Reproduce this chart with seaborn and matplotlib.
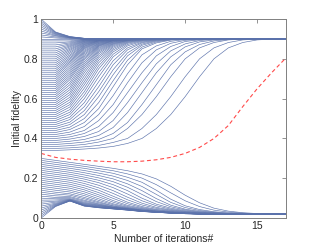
import pandas as pd
import seaborn as sns
import matplotlib
matplotlib.use("Agg")
import matplotlib.pyplot as plt

# ------------------------------ data -------------------------
iterations = list(range(18))

# curves that end up at the upper fixed point (~0.9)
upper_curves = [
    [0.34, 0.34, 0.343, 0.347, 0.352, 0.36, 0.375, 0.40, 0.45, 0.52, 0.61, 0.71, 0.80, 0.855, 0.882, 0.895, 0.899, 0.90],
    [0.35, 0.35, 0.353, 0.358, 0.365, 0.38, 0.40, 0.45, 0.52, 0.61, 0.71, 0.80, 0.855, 0.882, 0.895, 0.899, 0.90, 0.90],
    [0.36, 0.36, 0.364, 0.37, 0.382, 0.40, 0.45, 0.52, 0.61, 0.71, 0.80, 0.855, 0.882, 0.895, 0.899, 0.90, 0.90, 0.90],
    [0.37, 0.37, 0.375, 0.382, 0.395, 0.425, 0.48, 0.57, 0.67, 0.77, 0.835, 0.872, 0.89, 0.897, 0.90, 0.90, 0.90, 0.90],
    [0.38, 0.38, 0.386, 0.395, 0.415, 0.455, 0.53, 0.63, 0.73, 0.81, 0.86, 0.885, 0.895, 0.899, 0.90, 0.90, 0.90, 0.90],
    [0.39, 0.39, 0.397, 0.41, 0.435, 0.49, 0.58, 0.68, 0.775, 0.84, 0.875, 0.892, 0.898, 0.90, 0.90, 0.90, 0.90, 0.90],
    [0.40, 0.40, 0.408, 0.425, 0.46, 0.53, 0.63, 0.73, 0.815, 0.862, 0.887, 0.896, 0.90, 0.90, 0.90, 0.90, 0.90, 0.90],
    [0.41, 0.41, 0.42, 0.44, 0.49, 0.57, 0.68, 0.78, 0.845, 0.878, 0.893, 0.898, 0.90, 0.90, 0.90, 0.90, 0.90, 0.90],
    [0.42, 0.42, 0.432, 0.46, 0.52, 0.615, 0.725, 0.82, 0.865, 0.888, 0.897, 0.90, 0.90, 0.90, 0.90, 0.90, 0.90, 0.90],
    [0.43, 0.43, 0.445, 0.48, 0.55, 0.66, 0.77, 0.85, 0.88, 0.894, 0.899, 0.90, 0.90, 0.90, 0.90, 0.90, 0.90, 0.90],
    [0.44, 0.44, 0.457, 0.50, 0.58, 0.69, 0.793, 0.859, 0.885, 0.896, 0.90, 0.90, 0.90, 0.90, 0.90, 0.90, 0.90, 0.90],
    [0.45, 0.45, 0.47, 0.52, 0.61, 0.72, 0.815, 0.868, 0.889, 0.897, 0.90, 0.90, 0.90, 0.90, 0.90, 0.90, 0.90, 0.90],
    [0.46, 0.46, 0.482, 0.54, 0.635, 0.745, 0.83, 0.874, 0.892, 0.898, 0.90, 0.90, 0.90, 0.90, 0.90, 0.90, 0.90, 0.90],
    [0.47, 0.47, 0.495, 0.56, 0.66, 0.77, 0.845, 0.88, 0.894, 0.899, 0.90, 0.90, 0.90, 0.90, 0.90, 0.90, 0.90, 0.90],
    [0.48, 0.48, 0.507, 0.58, 0.685, 0.79, 0.855, 0.884, 0.896, 0.90, 0.90, 0.90, 0.90, 0.90, 0.90, 0.90, 0.90, 0.90],
    [0.49, 0.49, 0.52, 0.60, 0.71, 0.81, 0.865, 0.888, 0.897, 0.90, 0.90, 0.90, 0.90, 0.90, 0.90, 0.90, 0.90, 0.90],
    [0.50, 0.50, 0.532, 0.618, 0.73, 0.823, 0.872, 0.891, 0.898, 0.90, 0.90, 0.90, 0.90, 0.90, 0.90, 0.90, 0.90, 0.90],
    [0.51, 0.51, 0.545, 0.635, 0.75, 0.835, 0.878, 0.893, 0.899, 0.90, 0.90, 0.90, 0.90, 0.90, 0.90, 0.90, 0.90, 0.90],
    [0.52, 0.52, 0.558, 0.653, 0.765, 0.844, 0.882, 0.895, 0.90, 0.90, 0.90, 0.90, 0.90, 0.90, 0.90, 0.90, 0.90, 0.90],
    [0.53, 0.53, 0.57, 0.67, 0.78, 0.852, 0.885, 0.896, 0.90, 0.90, 0.90, 0.90, 0.90, 0.90, 0.90, 0.90, 0.90, 0.90],
    [0.54, 0.54, 0.582, 0.685, 0.793, 0.859, 0.888, 0.897, 0.90, 0.90, 0.90, 0.90, 0.90, 0.90, 0.90, 0.90, 0.90, 0.90],
    [0.55, 0.55, 0.595, 0.70, 0.805, 0.865, 0.89, 0.898, 0.90, 0.90, 0.90, 0.90, 0.90, 0.90, 0.90, 0.90, 0.90, 0.90],
    [0.56, 0.56, 0.607, 0.715, 0.815, 0.87, 0.892, 0.899, 0.90, 0.90, 0.90, 0.90, 0.90, 0.90, 0.90, 0.90, 0.90, 0.90],
    [0.57, 0.57, 0.62, 0.73, 0.825, 0.874, 0.893, 0.899, 0.90, 0.90, 0.90, 0.90, 0.90, 0.90, 0.90, 0.90, 0.90, 0.90],
    [0.58, 0.58, 0.632, 0.743, 0.833, 0.877, 0.894, 0.90, 0.90, 0.90, 0.90, 0.90, 0.90, 0.90, 0.90, 0.90, 0.90, 0.90],
    [0.59, 0.59, 0.645, 0.755, 0.84, 0.88, 0.895, 0.90, 0.90, 0.90, 0.90, 0.90, 0.90, 0.90, 0.90, 0.90, 0.90, 0.90],
    [0.60, 0.60, 0.657, 0.765, 0.846, 0.883, 0.896, 0.90, 0.90, 0.90, 0.90, 0.90, 0.90, 0.90, 0.90, 0.90, 0.90, 0.90],
    [0.61, 0.61, 0.67, 0.775, 0.852, 0.885, 0.897, 0.90, 0.90, 0.90, 0.90, 0.90, 0.90, 0.90, 0.90, 0.90, 0.90, 0.90],
    [0.62, 0.62, 0.682, 0.785, 0.857, 0.887, 0.898, 0.90, 0.90, 0.90, 0.90, 0.90, 0.90, 0.90, 0.90, 0.90, 0.90, 0.90],
    [0.63, 0.63, 0.695, 0.795, 0.862, 0.889, 0.898, 0.90, 0.90, 0.90, 0.90, 0.90, 0.90, 0.90, 0.90, 0.90, 0.90, 0.90],
    [0.64, 0.64, 0.705, 0.803, 0.865, 0.891, 0.899, 0.90, 0.90, 0.90, 0.90, 0.90, 0.90, 0.90, 0.90, 0.90, 0.90, 0.90],
    [0.65, 0.65, 0.715, 0.81, 0.868, 0.892, 0.899, 0.90, 0.90, 0.90, 0.90, 0.90, 0.90, 0.90, 0.90, 0.90, 0.90, 0.90],
    [0.66, 0.66, 0.725, 0.818, 0.871, 0.893, 0.90, 0.90, 0.90, 0.90, 0.90, 0.90, 0.90, 0.90, 0.90, 0.90, 0.90, 0.90],
    [0.67, 0.67, 0.735, 0.825, 0.874, 0.894, 0.90, 0.90, 0.90, 0.90, 0.90, 0.90, 0.90, 0.90, 0.90, 0.90, 0.90, 0.90],
    [0.68, 0.68, 0.745, 0.832, 0.877, 0.895, 0.90, 0.90, 0.90, 0.90, 0.90, 0.90, 0.90, 0.90, 0.90, 0.90, 0.90, 0.90],
    [0.69, 0.69, 0.755, 0.838, 0.879, 0.896, 0.90, 0.90, 0.90, 0.90, 0.90, 0.90, 0.90, 0.90, 0.90, 0.90, 0.90, 0.90],
    [0.70, 0.70, 0.765, 0.844, 0.882, 0.897, 0.90, 0.90, 0.90, 0.90, 0.90, 0.90, 0.90, 0.90, 0.90, 0.90, 0.90, 0.90],
    [0.71, 0.71, 0.775, 0.85, 0.884, 0.897, 0.90, 0.90, 0.90, 0.90, 0.90, 0.90, 0.90, 0.90, 0.90, 0.90, 0.90, 0.90],
    [0.72, 0.72, 0.783, 0.854, 0.886, 0.898, 0.90, 0.90, 0.90, 0.90, 0.90, 0.90, 0.90, 0.90, 0.90, 0.90, 0.90, 0.90],
    [0.73, 0.73, 0.79, 0.858, 0.888, 0.898, 0.90, 0.90, 0.90, 0.90, 0.90, 0.90, 0.90, 0.90, 0.90, 0.90, 0.90, 0.90],
    [0.74, 0.74, 0.798, 0.862, 0.89, 0.899, 0.90, 0.90, 0.90, 0.90, 0.90, 0.90, 0.90, 0.90, 0.90, 0.90, 0.90, 0.90],
    [0.75, 0.75, 0.805, 0.865, 0.891, 0.899, 0.90, 0.90, 0.90, 0.90, 0.90, 0.90, 0.90, 0.90, 0.90, 0.90, 0.90, 0.90],
    [0.76, 0.76, 0.813, 0.869, 0.892, 0.90, 0.90, 0.90, 0.90, 0.90, 0.90, 0.90, 0.90, 0.90, 0.90, 0.90, 0.90, 0.90],
    [0.77, 0.77, 0.82, 0.872, 0.893, 0.90, 0.90, 0.90, 0.90, 0.90, 0.90, 0.90, 0.90, 0.90, 0.90, 0.90, 0.90, 0.90],
    [0.78, 0.78, 0.828, 0.875, 0.894, 0.90, 0.90, 0.90, 0.90, 0.90, 0.90, 0.90, 0.90, 0.90, 0.90, 0.90, 0.90, 0.90],
    [0.79, 0.79, 0.835, 0.878, 0.895, 0.90, 0.90, 0.90, 0.90, 0.90, 0.90, 0.90, 0.90, 0.90, 0.90, 0.90, 0.90, 0.90],
    [0.80, 0.80, 0.842, 0.881, 0.896, 0.90, 0.90, 0.90, 0.90, 0.90, 0.90, 0.90, 0.90, 0.90, 0.90, 0.90, 0.90, 0.90],
    [0.81, 0.81, 0.848, 0.883, 0.897, 0.90, 0.90, 0.90, 0.90, 0.90, 0.90, 0.90, 0.90, 0.90, 0.90, 0.90, 0.90, 0.90],
    [0.82, 0.82, 0.854, 0.886, 0.898, 0.90, 0.90, 0.90, 0.90, 0.90, 0.90, 0.90, 0.90, 0.90, 0.90, 0.90, 0.90, 0.90],
    [0.83, 0.83, 0.86, 0.888, 0.898, 0.90, 0.90, 0.90, 0.90, 0.90, 0.90, 0.90, 0.90, 0.90, 0.90, 0.90, 0.90, 0.90],
    [0.84, 0.84, 0.865, 0.89, 0.899, 0.90, 0.90, 0.90, 0.90, 0.90, 0.90, 0.90, 0.90, 0.90, 0.90, 0.90, 0.90, 0.90],
    [0.85, 0.85, 0.87, 0.892, 0.899, 0.90, 0.90, 0.90, 0.90, 0.90, 0.90, 0.90, 0.90, 0.90, 0.90, 0.90, 0.90, 0.90],
    [0.86, 0.86, 0.875, 0.894, 0.90, 0.90, 0.90, 0.90, 0.90, 0.90, 0.90, 0.90, 0.90, 0.90, 0.90, 0.90, 0.90, 0.90],
    [0.87, 0.87, 0.88, 0.895, 0.90, 0.90, 0.90, 0.90, 0.90, 0.90, 0.90, 0.90, 0.90, 0.90, 0.90, 0.90, 0.90, 0.90],
    [0.88, 0.88, 0.885, 0.897, 0.90, 0.90, 0.90, 0.90, 0.90, 0.90, 0.90, 0.90, 0.90, 0.90, 0.90, 0.90, 0.90, 0.90],
    [0.89, 0.89, 0.89, 0.898, 0.90, 0.90, 0.90, 0.90, 0.90, 0.90, 0.90, 0.90, 0.90, 0.90, 0.90, 0.90, 0.90, 0.90],
    [0.90, 0.90, 0.90, 0.90, 0.90, 0.90, 0.90, 0.90, 0.90, 0.90, 0.90, 0.90, 0.90, 0.90, 0.90, 0.90, 0.90, 0.90],
    [0.91, 0.905, 0.90, 0.90, 0.90, 0.90, 0.90, 0.90, 0.90, 0.90, 0.90, 0.90, 0.90, 0.90, 0.90, 0.90, 0.90, 0.90],
    [0.92, 0.91, 0.903, 0.90, 0.90, 0.90, 0.90, 0.90, 0.90, 0.90, 0.90, 0.90, 0.90, 0.90, 0.90, 0.90, 0.90, 0.90],
    [0.93, 0.915, 0.905, 0.90, 0.90, 0.90, 0.90, 0.90, 0.90, 0.90, 0.90, 0.90, 0.90, 0.90, 0.90, 0.90, 0.90, 0.90],
    [0.94, 0.918, 0.906, 0.901, 0.90, 0.90, 0.90, 0.90, 0.90, 0.90, 0.90, 0.90, 0.90, 0.90, 0.90, 0.90, 0.90, 0.90],
    [0.95, 0.922, 0.907, 0.901, 0.90, 0.90, 0.90, 0.90, 0.90, 0.90, 0.90, 0.90, 0.90, 0.90, 0.90, 0.90, 0.90, 0.90],
    [0.96, 0.925, 0.908, 0.902, 0.90, 0.90, 0.90, 0.90, 0.90, 0.90, 0.90, 0.90, 0.90, 0.90, 0.90, 0.90, 0.90, 0.90],
    [0.97, 0.928, 0.909, 0.902, 0.90, 0.90, 0.90, 0.90, 0.90, 0.90, 0.90, 0.90, 0.90, 0.90, 0.90, 0.90, 0.90, 0.90],
    [0.98, 0.931, 0.91, 0.903, 0.90, 0.90, 0.90, 0.90, 0.90, 0.90, 0.90, 0.90, 0.90, 0.90, 0.90, 0.90, 0.90, 0.90],
    [0.99, 0.933, 0.911, 0.903, 0.90, 0.90, 0.90, 0.90, 0.90, 0.90, 0.90, 0.90, 0.90, 0.90, 0.90, 0.90, 0.90, 0.90],
    [1.00, 0.935, 0.912, 0.903, 0.90, 0.90, 0.90, 0.90, 0.90, 0.90, 0.90, 0.90, 0.90, 0.90, 0.90, 0.90, 0.90, 0.90],
]

# curves that end up at the lower fixed point (~0.02)
lower_curves = [
    [0.30, 0.29, 0.28, 0.27, 0.26, 0.25, 0.238, 0.222, 0.197, 0.16, 0.115, 0.077, 0.05, 0.035, 0.027, 0.023, 0.021, 0.02],
    [0.29, 0.28, 0.27, 0.26, 0.249, 0.238, 0.222, 0.201, 0.168, 0.127, 0.087, 0.058, 0.04, 0.03, 0.025, 0.022, 0.02, 0.02],
    [0.28, 0.27, 0.26, 0.25, 0.238, 0.225, 0.205, 0.18, 0.14, 0.095, 0.062, 0.043, 0.032, 0.026, 0.023, 0.021, 0.02, 0.02],
    [0.27, 0.26, 0.25, 0.239, 0.226, 0.211, 0.189, 0.159, 0.119, 0.079, 0.053, 0.038, 0.029, 0.024, 0.022, 0.02, 0.02, 0.02],
    [0.26, 0.25, 0.24, 0.228, 0.214, 0.197, 0.172, 0.138, 0.098, 0.065, 0.045, 0.034, 0.027, 0.023, 0.021, 0.02, 0.02, 0.02],
    [0.25, 0.24, 0.23, 0.217, 0.202, 0.183, 0.155, 0.119, 0.083, 0.057, 0.041, 0.031, 0.026, 0.022, 0.021, 0.02, 0.02, 0.02],
    [0.24, 0.23, 0.22, 0.206, 0.19, 0.168, 0.138, 0.10, 0.07, 0.05, 0.037, 0.029, 0.024, 0.022, 0.02, 0.02, 0.02, 0.02],
    [0.23, 0.22, 0.21, 0.196, 0.178, 0.153, 0.121, 0.087, 0.062, 0.045, 0.034, 0.027, 0.023, 0.021, 0.02, 0.02, 0.02, 0.02],
    [0.22, 0.21, 0.20, 0.185, 0.165, 0.138, 0.105, 0.075, 0.054, 0.041, 0.032, 0.026, 0.023, 0.021, 0.02, 0.02, 0.02, 0.02],
    [0.21, 0.20, 0.19, 0.174, 0.152, 0.124, 0.092, 0.066, 0.049, 0.038, 0.03, 0.025, 0.022, 0.02, 0.02, 0.02, 0.02, 0.02],
    [0.20, 0.19, 0.18, 0.163, 0.14, 0.11, 0.08, 0.058, 0.044, 0.035, 0.028, 0.024, 0.022, 0.02, 0.02, 0.02, 0.02, 0.02],
    [0.19, 0.18, 0.17, 0.152, 0.128, 0.099, 0.072, 0.053, 0.041, 0.033, 0.027, 0.023, 0.021, 0.02, 0.02, 0.02, 0.02, 0.02],
    [0.18, 0.17, 0.16, 0.142, 0.117, 0.088, 0.064, 0.049, 0.038, 0.031, 0.026, 0.023, 0.021, 0.02, 0.02, 0.02, 0.02, 0.02],
    [0.17, 0.16, 0.15, 0.132, 0.107, 0.08, 0.059, 0.046, 0.036, 0.03, 0.025, 0.022, 0.021, 0.02, 0.02, 0.02, 0.02, 0.02],
    [0.16, 0.15, 0.14, 0.122, 0.097, 0.072, 0.055, 0.043, 0.035, 0.029, 0.025, 0.022, 0.021, 0.02, 0.02, 0.02, 0.02, 0.02],
    [0.15, 0.14, 0.131, 0.113, 0.089, 0.067, 0.052, 0.041, 0.034, 0.028, 0.024, 0.022, 0.02, 0.02, 0.02, 0.02, 0.02, 0.02],
    [0.14, 0.13, 0.122, 0.104, 0.082, 0.062, 0.05, 0.04, 0.033, 0.028, 0.024, 0.022, 0.02, 0.02, 0.02, 0.02, 0.02, 0.02],
    [0.13, 0.121, 0.115, 0.097, 0.077, 0.06, 0.048, 0.039, 0.032, 0.027, 0.024, 0.021, 0.02, 0.02, 0.02, 0.02, 0.02, 0.02],
    [0.12, 0.112, 0.108, 0.09, 0.072, 0.057, 0.047, 0.038, 0.032, 0.027, 0.024, 0.021, 0.02, 0.02, 0.02, 0.02, 0.02, 0.02],
    [0.11, 0.104, 0.103, 0.085, 0.069, 0.055, 0.046, 0.037, 0.031, 0.027, 0.023, 0.021, 0.02, 0.02, 0.02, 0.02, 0.02, 0.02],
    [0.10, 0.097, 0.098, 0.08, 0.066, 0.054, 0.045, 0.037, 0.031, 0.027, 0.023, 0.021, 0.02, 0.02, 0.02, 0.02, 0.02, 0.02],
    [0.09, 0.091, 0.095, 0.076, 0.064, 0.053, 0.044, 0.036, 0.031, 0.026, 0.023, 0.021, 0.02, 0.02, 0.02, 0.02, 0.02, 0.02],
    [0.08, 0.085, 0.093, 0.073, 0.062, 0.052, 0.044, 0.036, 0.031, 0.026, 0.023, 0.021, 0.02, 0.02, 0.02, 0.02, 0.02, 0.02],
    [0.07, 0.08, 0.091, 0.07, 0.06, 0.051, 0.043, 0.035, 0.03, 0.026, 0.023, 0.021, 0.02, 0.02, 0.02, 0.02, 0.02, 0.02],
    [0.06, 0.075, 0.09, 0.068, 0.058, 0.05, 0.043, 0.035, 0.03, 0.026, 0.023, 0.021, 0.02, 0.02, 0.02, 0.02, 0.02, 0.02],
    [0.05, 0.071, 0.089, 0.066, 0.056, 0.049, 0.042, 0.035, 0.03, 0.026, 0.023, 0.021, 0.02, 0.02, 0.02, 0.02, 0.02, 0.02],
    [0.04, 0.068, 0.088, 0.064, 0.055, 0.048, 0.042, 0.034, 0.03, 0.026, 0.023, 0.021, 0.02, 0.02, 0.02, 0.02, 0.02, 0.02],
    [0.03, 0.065, 0.087, 0.063, 0.054, 0.047, 0.041, 0.034, 0.029, 0.025, 0.022, 0.021, 0.02, 0.02, 0.02, 0.02, 0.02, 0.02],
    [0.02, 0.062, 0.087, 0.062, 0.053, 0.047, 0.041, 0.034, 0.029, 0.025, 0.022, 0.021, 0.02, 0.02, 0.02, 0.02, 0.02, 0.02],
    [0.01, 0.06, 0.086, 0.061, 0.052, 0.046, 0.04, 0.033, 0.029, 0.025, 0.022, 0.02, 0.02, 0.02, 0.02, 0.02, 0.02, 0.02],
    [0.00, 0.058, 0.086, 0.06, 0.052, 0.046, 0.04, 0.033, 0.029, 0.025, 0.022, 0.02, 0.02, 0.02, 0.02, 0.02, 0.02, 0.02],
]

# the threshold curve (red dashed)
threshold_curve = [0.325, 0.305, 0.296, 0.29, 0.286, 0.283, 0.283, 0.286, 0.293, 0.305,
                   0.325, 0.355, 0.40, 0.465, 0.56, 0.65, 0.73, 0.805]

x_ticks = [0, 5, 10, 15]
y_ticks = [0, 0.2, 0.4, 0.6, 0.8, 1]
y_tick_labels = ["0", "0.2", "0.4", "0.6", "0.8", "1"]

# ------------------------------ build long table ------------------------------
rows = []
for curve_id, curve in enumerate(upper_curves + lower_curves):
    assert len(curve) == len(iterations), (curve_id, len(curve))
    for it, val in zip(iterations, curve):
        rows.append({"curve": curve_id, "iteration": it, "fidelity": val})
curves_df = pd.DataFrame(rows)
threshold_df = pd.DataFrame({"iteration": iterations, "fidelity": threshold_curve})

# ---------------------------------- plotting ----------------------------------
sns.set_style("white")
plt.rcParams["font.family"] = ["Liberation Sans", "DejaVu Sans"]

fig = plt.figure(figsize=(3.16, 2.47), dpi=100)
ax = fig.add_axes([0.13, 0.117, 0.775, 0.806])

sns.lineplot(data=curves_df, x="iteration", y="fidelity", units="curve",
             estimator=None, color="#5b72ab", lw=0.45, ax=ax)
sns.lineplot(data=threshold_df, x="iteration", y="fidelity", color="#ff4a4a",
             lw=0.8, ax=ax)
ax.lines[-1].set_linestyle((0, (3.5, 2.5)))

ax.set_xlim(0, 17)
ax.set_ylim(0, 1)
ax.set_xticks(x_ticks)
ax.set_yticks(y_ticks)
ax.set_yticklabels(y_tick_labels)
ax.set_xlabel("Number of iterations#", fontsize=7.5, labelpad=2.5)
ax.set_ylabel("Initial fidelity", fontsize=7.5, labelpad=1)
ax.tick_params(direction="in", top=True, right=True, length=3, width=0.6,
               labelsize=7.5, color="#808080", pad=2)
for spine in ax.spines.values():
    spine.set_visible(True)
    spine.set_color("#808080")
    spine.set_linewidth(0.7)

plt.savefig("out.png", dpi=100)
